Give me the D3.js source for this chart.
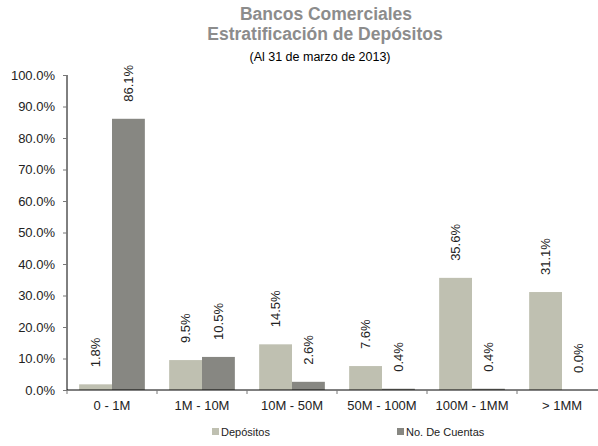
<!DOCTYPE html>
<html><head><meta charset="utf-8">
<script src="https://cdn.jsdelivr.net/npm/d3@7"></script>
<style>body{margin:0;background:#fff}svg{display:block;font-family:"Liberation Sans",Arial,sans-serif}</style>
</head><body><svg id="c" width="598" height="446"></svg>
<script>
const categories = ["0 - 1M","1M - 10M","10M - 50M","50M - 100M","100M - 1MM","> 1MM"];
const seriesNames = ["Depósitos","No. De Cuentas"];
const depositos = [1.8, 9.5, 14.5, 7.6, 35.6, 31.1];
const cuentas = [86.1, 10.5, 2.6, 0.4, 0.4, 0.0];
const yTicks = [0,10,20,30,40,50,60,70,80,90,100];
const colors = ["#bfc0b1","#878782"];

const svg = d3.select("#c");
const x = d3.scaleBand().domain(categories).range([67,607]).paddingInner(0).paddingOuter(0);
const y = d3.scaleLinear().domain([0,100]).range([390,75]);
const inner = d3.scaleBand().domain(seriesNames).range([0,x.bandwidth()]).paddingInner(0).paddingOuter(0.37);

// titles
svg.append("text").attr("x",326).attr("y",20).attr("text-anchor","middle").attr("font-size",17.5).attr("font-weight","bold").attr("fill","#8c8c8c").text("Bancos Comerciales");
svg.append("text").attr("x",325).attr("y",39.5).attr("text-anchor","middle").attr("font-size",17.5).attr("font-weight","bold").attr("fill","#8c8c8c").text("Estratificación de Depósitos");
svg.append("text").attr("x",320).attr("y",61).attr("text-anchor","middle").attr("font-size",12.5).attr("fill","#000").text("(Al 31 de marzo de 2013)");

// y axis
const yAxis = d3.axisLeft(y).tickValues(yTicks).tickSize(4).tickPadding(8).tickFormat(d=>d.toFixed(1)+"%");
const gy = svg.append("g").attr("transform","translate(67,0)").call(yAxis);
gy.select(".domain").attr("stroke","#000").attr("d","M0,75V390");
gy.selectAll(".tick line").attr("stroke","#777");
gy.selectAll(".tick text").attr("font-size",13).attr("fill","#222").attr("font-family","Liberation Sans, Arial, sans-serif");

// bars
const data = [];
categories.forEach((c,i)=>{
  data.push({cat:c, s:seriesNames[0], v:depositos[i], k:0});
  data.push({cat:c, s:seriesNames[1], v:cuentas[i], k:1});
});
svg.append("g").selectAll("rect").data(data).join("rect")
  .attr("x",d=>x(d.cat)+inner(d.s))
  .attr("width",inner.bandwidth())
  .attr("y",d=>y(d.v))
  .attr("height",d=>y(0)-y(d.v))
  .attr("fill",d=>colors[d.k]);

// labels
svg.append("g").selectAll("text").data(data).join("text")
  .attr("transform",d=>`translate(${x(d.cat)+inner(d.s)+inner.bandwidth()/2+4.5},${y(d.v)-17}) rotate(-90)`)
  .attr("font-size",13).attr("fill","#222")
  .text(d=>d.v.toFixed(1)+"%");

// x axis
const xAxis = d3.axisBottom(x).tickSize(0).tickPadding(11);
const gx = svg.append("g").attr("transform","translate(0,390)").call(xAxis);
gx.select(".domain").attr("stroke","#000").attr("d","M67,0H607");
gx.selectAll(".tick text").attr("font-size",13).attr("fill","#222").attr("font-family","Liberation Sans, Arial, sans-serif");
const bounds = categories.map(c=>x(c)).concat([x.range()[1]]);
svg.append("g").selectAll("line").data(bounds).join("line")
  .attr("x1",d=>d).attr("x2",d=>d).attr("y1",390).attr("y2",394).attr("stroke","#777");

// legend
const legX = [212, 397];
const lg = svg.append("g").selectAll("g").data(seriesNames).join("g")
  .attr("transform",(d,i)=>`translate(${legX[i]},432)`);
lg.append("rect").attr("x",0).attr("y",-4).attr("width",7).attr("height",7).attr("fill",(d,i)=>colors[i]);
lg.append("text").attr("x",9).attr("y",4).attr("font-size",11).attr("fill","#222").text(d=>d);
</script></body></html>
